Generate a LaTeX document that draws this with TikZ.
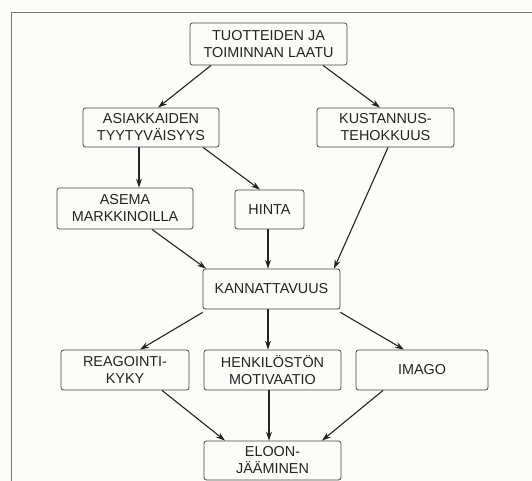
\documentclass[tikz,border=0pt]{standalone}
\usepackage{fontspec}
\setmainfont{Liberation Sans}
\usetikzlibrary{arrows.meta}
\definecolor{paper}{RGB}{252,252,248}
\definecolor{ink}{RGB}{35,35,35}
\definecolor{boxline}{RGB}{70,70,70}
\definecolor{framegray}{RGB}{120,120,120}
\tikzset{
  box/.style={draw=boxline, line width=0.8pt, rounded corners=2.5pt, fill=paper,
    text=ink, align=center, inner sep=0pt,
    font=\fontsize{14.4}{17}\selectfont},
  link/.style={draw=ink, line width=1.1pt, -{Stealth[length=9pt,width=6pt]}}
}
\begin{document}
\begin{tikzpicture}[x=1pt,y=-1pt]
  \fill[paper] (0,0) rectangle (532,481);
  \useasboundingbox (0,0) rectangle (532,481);
  % page frame: left and top edges only
  \draw[framegray, line width=1pt] (11.5,481) -- (11.5,12.5) -- (532,12.5);

  \node[box, minimum width=157pt, minimum height=42pt] (top)   at (268.5,44)   {TUOTTEIDEN JA\\TOIMINNAN LAATU};
  \node[box, minimum width=136pt, minimum height=39pt] (asiak) at (151,127.5)  {ASIAKKAIDEN\\TYYTYVÄISYYS};
  \node[box, minimum width=137pt, minimum height=39pt] (kust)  at (385.5,127.5){KUSTANNUS-\\TEHOKKUUS};
  \node[box, minimum width=136pt, minimum height=41pt] (asema) at (125,208.5)  {ASEMA\\MARKKINOILLA};
  \node[box, minimum width=69pt,  minimum height=39pt] (hinta) at (269.5,209.5){HINTA};
  \node[box, minimum width=137pt, minimum height=40pt] (kann)  at (271.5,289)  {KANNATTAVUUS};
  \node[box, minimum width=128pt, minimum height=40pt] (reag)  at (125,370)    {REAGOINTI-\\KYKY};
  \node[box, minimum width=137pt, minimum height=40pt] (henk)  at (272.5,370)  {HENKILÖSTÖN\\MOTIVAATIO};
  \node[box, minimum width=132pt, minimum height=40pt] (imago) at (422,370)    {IMAGO};
  \node[box, minimum width=137pt, minimum height=39pt] (eloon) at (272.5,460.5){ELOON-\\JÄÄMINEN};

  \draw[link] ([xshift=-57.5pt]top.south) -- ([xshift=7pt]asiak.north);
  \draw[link] ([xshift=54.5pt]top.south) -- ([xshift=-5.5pt]kust.north);
  \draw[link] ([xshift=-12pt]asiak.south) -- ([xshift=14pt]asema.north);
  \draw[link] ([xshift=52pt]asiak.south) -- ([xshift=-9.5pt]hinta.north);
  \draw[link] ([xshift=2.5pt]kust.south) -- ([xshift=62.5pt]kann.north);
  \draw[link] ([xshift=27pt]asema.south) -- ([xshift=-65.5pt]kann.north);
  \draw[link] ([xshift=-1.5pt]hinta.south) -- ([xshift=-3.5pt]kann.north);
  \draw[link] ([yshift=-3pt]kann.south west) -- ([xshift=15pt]reag.north);
  \draw[link] ([xshift=-3.5pt]kann.south) -- ([xshift=-4.5pt]henk.north);
  \draw[link] ([yshift=-3pt]kann.south east) -- ([xshift=-18pt]imago.north);
  \draw[link] ([xshift=37pt]reag.south) -- ([xshift=-47.5pt]eloon.north);
  \draw[link] ([xshift=-3.5pt]henk.south) -- ([xshift=-3.5pt]eloon.north);
  \draw[link] ([xshift=-39pt]imago.south) -- ([xshift=49.5pt]eloon.north);
\end{tikzpicture}
\end{document}
